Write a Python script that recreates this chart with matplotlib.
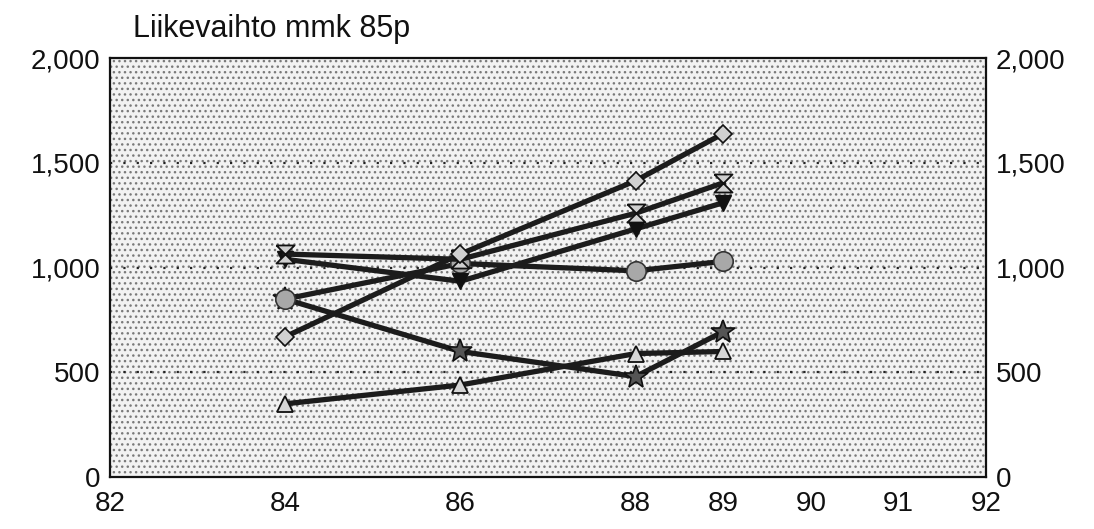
import matplotlib
matplotlib.use("Agg")
import matplotlib.pyplot as plt
from matplotlib.patches import Rectangle
from matplotlib.ticker import FuncFormatter

plt.rcParams['font.family'] = ['Liberation Sans', 'DejaVu Sans']
plt.rcParams['hatch.linewidth'] = 1.0
plt.rcParams['hatch.color'] = '#7a7a7a'

title = "Liikevaihto mmk 85p"
years = [84, 86, 88, 89]
x_ticks = [82, 84, 86, 88, 89, 90, 91, 92]
y_ticks = [0, 500, 1000, 1500, 2000]

# values
diamond = [670, 1065, 1415, 1640]
hourglass = [1065, 1040, 1260, 1405]
tri_down = [1040, 935, 1185, 1310]
circle = [850, 1020, 985, 1030]
star = [850, 600, 480, 695]
triangle = [350, 440, 590, 600]

bowtie = [(-1, 1), (1, 1), (-1, -1), (1, -1), (-1, 1)]

fig = plt.figure(figsize=(10.94, 5.29), dpi=100)
ax = fig.add_axes([0.1005, 0.098, 0.8008, 0.792])

# dotted screen background of the plot area
ax.add_patch(Rectangle((0, 0), 1, 1, transform=ax.transAxes, facecolor='#f2f2f2',
                       hatch='...', lw=0, zorder=0))

for yv in [500, 1000, 1500]:
    ax.axhline(yv, color='#222222', lw=1.6, linestyle=(0, (1, 5)), zorder=1)

line_kw = dict(color='#1c1c1c', lw=3.8, zorder=3)
ax.plot(years, triangle, marker='^', ms=12, mfc='#d6d6d6', mec='#111111', mew=1.3, **line_kw)
ax.plot(years, star, marker='*', ms=18, mfc='#555555', mec='#111111', mew=1.2, **line_kw)
ax.plot(years, circle, marker='o', ms=14, mfc='#a8a8a8', mec='#333333', mew=1.2, **line_kw)
ax.plot(years, tri_down, marker='v', ms=12, mfc='#111111', mec='#111111', **line_kw)
ax.plot(years, hourglass, marker=bowtie, ms=13, mfc='#cfcfcf', mec='#111111', mew=1.3, **line_kw)
ax.plot(years, diamond, marker='D', ms=9, mfc='#d0d0d0', mec='#111111', mew=1.2, **line_kw)

ax.set_xlim(82, 92)
ax.set_ylim(0, 2000)
ax.set_xticks(x_ticks)
ax.set_yticks(y_ticks)
fmt = FuncFormatter(lambda v, p: f"{int(v):,}")
ax.yaxis.set_major_formatter(fmt)
ax.tick_params(axis='both', length=0, labelsize=20, colors='#111111')
ax.tick_params(axis='x', pad=10)
ax.tick_params(axis='y', pad=7, labelright=True)
for s in ax.spines.values():
    s.set_linewidth(1.6)
    s.set_color('#111111')

fig.text(0.1215, 0.93, title, fontsize=22, color='#111111', ha='left', va='baseline')

fig.savefig("out.png", dpi=100)
